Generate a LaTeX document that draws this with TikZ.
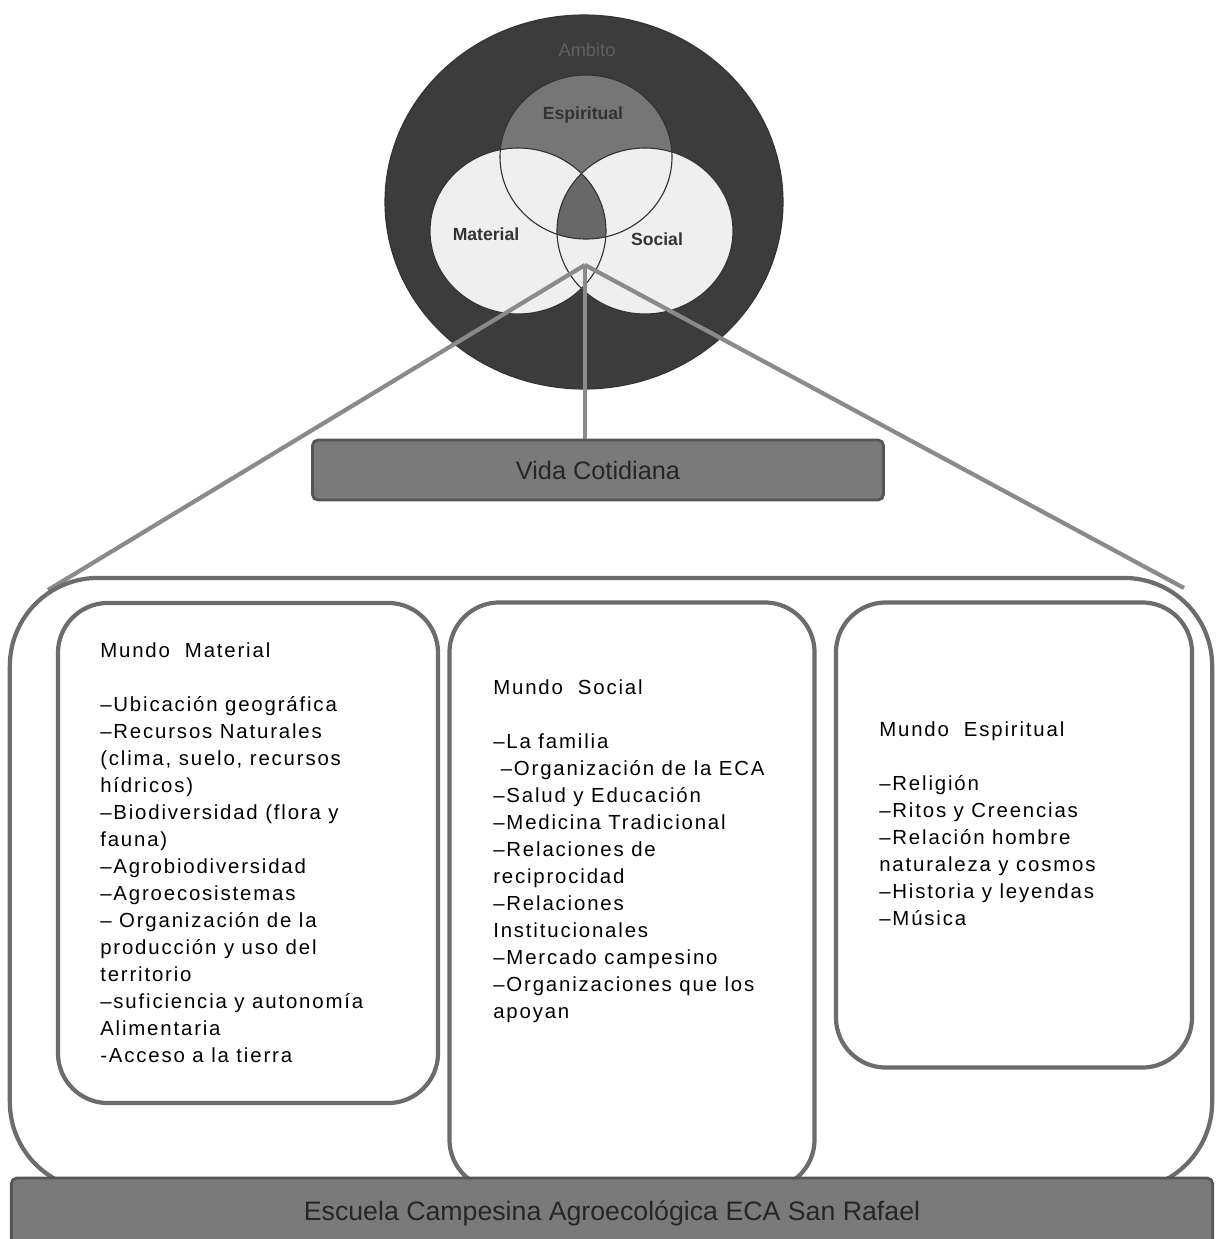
\documentclass[tikz,border=0pt]{standalone}
\usepackage{fontspec}
\setmainfont{Liberation Sans}
\newfontfamily\spacedfont[LetterSpace=9]{Liberation Sans}
\usetikzlibrary{positioning}
\definecolor{ringgray}{RGB}{60,60,60}
\definecolor{spiritgray}{RGB}{118,118,118}
\definecolor{lightgray}{RGB}{239,239,239}
\definecolor{coregray}{RGB}{104,104,104}
\definecolor{framegray}{RGB}{108,108,108}
\definecolor{linkgray}{RGB}{138,138,138}
\definecolor{bargray}{RGB}{122,122,122}

\begin{document}
\begin{tikzpicture}[
    x=0.025cm, y=-0.025cm,
    world/.style={rectangle, rounded corners=1.25cm, draw=framegray, line width=3pt, fill=white, inner sep=0},
    bar/.style={rectangle, rounded corners=4pt, draw=bargray!70!black, fill=bargray, line width=2pt, inner sep=0, text=black!85},
    link/.style={draw=linkgray, line width=3pt},
    itemtext/.style={anchor=north west, align=left, inner sep=0, font=\spacedfont\fontsize{14.5}{19.2}\selectfont},
    venn/.style={inner sep=0, font=\bfseries\fontsize{12.5}{14}\selectfont, text=black!80}
  ]
    \useasboundingbox (0,0) rectangle (1216,1239);

    % circulos del ambito
    \fill[ringgray] (584,202) ellipse [x radius=199, y radius=187];
    \fill[spiritgray] (586,157) ellipse [x radius=86, y radius=82];
    \fill[lightgray] (518,231) ellipse [x radius=88, y radius=83];
    \fill[lightgray] (645,231) ellipse [x radius=88, y radius=83];
    \begin{scope}
      \clip (586,157) ellipse [x radius=86, y radius=82];
      \clip (518,231) ellipse [x radius=88, y radius=83];
      \fill[coregray] (645,231) ellipse [x radius=88, y radius=83];
    \end{scope}
    \draw[black!80, line width=0.8pt] (584,202) ellipse [x radius=199, y radius=187];
    \draw[black!80, line width=0.8pt] (586,157) ellipse [x radius=86, y radius=82];
    \draw[black!80, line width=0.8pt] (518,231) ellipse [x radius=88, y radius=83];
    \draw[black!80, line width=0.8pt] (645,231) ellipse [x radius=88, y radius=83];

    \node[venn, font=\fontsize{13}{14}\selectfont, text=black!62] (ambito) at (587,50) {Ambito};
    \node[venn] (espiritual) at (583,115) {Espiritual};
    \node[venn] (material) at (486,234) {Material};
    \node[venn] (social) at (657,239) {Social};

    \coordinate (apex) at (585,265);
    \coordinate (leftfoot) at (48,590);
    \coordinate (rightfoot) at (1184,588);

    \node[bar, minimum width=14.275cm, minimum height=1.5cm, font=\fontsize{18}{20}\selectfont] (vida) at (598,470) {Vida Cotidiana};

    \draw[link] (apex) -- (leftfoot);
    \draw[link] (apex) -- (rightfoot);
    \draw[link] (apex) -- (apex |- vida.north);

    % marco y mundos
    \node[world, rounded corners=2.2cm, fill=none, minimum width=30.05cm, minimum height=15.3cm] (frame) at (611,884) {};
    \node[world, minimum width=9.5cm, minimum height=12.5cm] (mmaterial) at (248,853) {};
    \node[world, minimum width=9.125cm, minimum height=14.675cm] (msocial) at (632,896) {};
    \node[world, minimum width=8.9cm, minimum height=11.625cm] (mespiritual) at (1014,835) {};

    \node[itemtext] (txtmaterial) at (100,642) {Mundo\ \ Material\\ \\
      –Ubicación geográfica\\
      –Recursos Naturales\\
      (clima, suelo, recursos\\
      hídricos)\\
      –Biodiversidad (flora y\\
      fauna)\\
      –Agrobiodiversidad\\
      –Agroecosistemas\\
      – Organización de la\\
      producción y uso del\\
      territorio\\
      –suficiencia y autonomía\\
      Alimentaria\\
      -Acceso a la tierra};
    \node[itemtext] (txtsocial) at (493,679) {Mundo\ \ Social\\ \\
      –La familia\\
      \ –Organización de la ECA\\
      –Salud y Educación\\
      –Medicina Tradicional\\
      –Relaciones de\\
      reciprocidad\\
      –Relaciones\\
      Institucionales\\
      –Mercado campesino\\
      –Organizaciones que los\\
      apoyan};
    \node[itemtext] (txtespiritual) at (879,721) {Mundo\ \ Espiritual\\ \\
      –Religión\\
      –Ritos y Creencias\\
      –Relación hombre\\
      naturaleza y cosmos\\
      –Historia y leyendas\\
      –Música};

    \node[bar, minimum width=30.025cm, minimum height=1.75cm, font=\fontsize{19}{21}\selectfont] (escuela) at (612,1213) {Escuela Campesina Agroecológica ECA San Rafael};
  \end{tikzpicture}
\end{document}
